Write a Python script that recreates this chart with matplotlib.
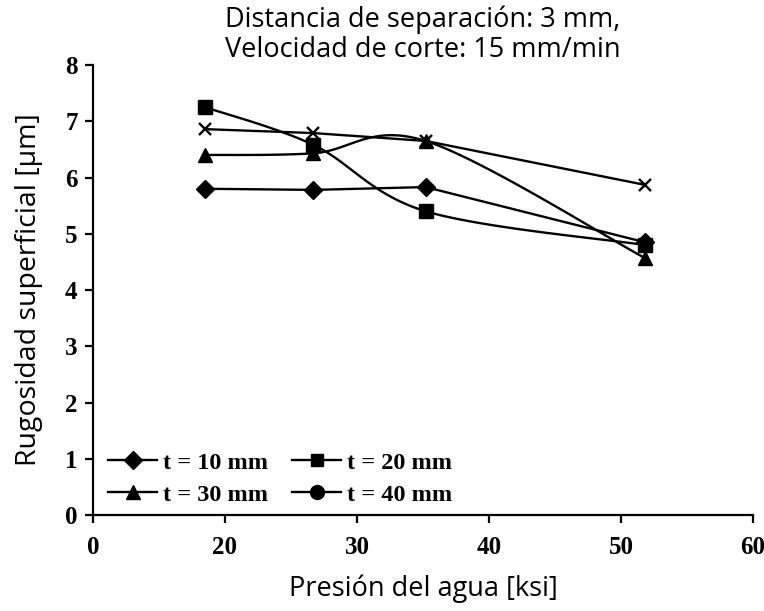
import numpy as np
import matplotlib.pyplot as plt
from matplotlib.lines import Line2D

# Values
presion = [18.5, 26.7, 35.2, 51.8]          # ksi
rug_t10 = [5.80, 5.78, 5.83, 4.85]
rug_t20 = [7.25, 6.58, 5.40, 4.80]
rug_t30 = [6.40, 6.43, 6.65, 4.57]
rug_t40 = [6.86, 6.79, 6.65, 5.87]

series_labels = ["t = 10 mm", "t = 20 mm", "t = 30 mm", "t = 40 mm"]
x_ticks = [10, 20, 30, 40, 50, 60]
x_tick_labels = ["0", "20", "30", "40", "50", "60"]
y_ticks = [0, 1, 2, 3, 4, 5, 6, 7, 8]


def smooth(x, y, n=30):
    # Excel-like smoothed line (Catmull-Rom through the points)
    x = np.asarray(x, float)
    y = np.asarray(y, float)
    px = np.concatenate([[x[0]], x, [x[-1]]])
    py = np.concatenate([[y[0]], y, [y[-1]]])
    xs, ys = [], []
    t = np.linspace(0, 1, n)
    for i in range(1, len(px) - 2):
        p0, p1, p2, p3 = (np.array([px[j], py[j]]) for j in range(i - 1, i + 3))
        m1 = (p2 - p0) / 2
        m2 = (p3 - p1) / 2
        h00 = 2 * t**3 - 3 * t**2 + 1
        h10 = t**3 - 2 * t**2 + t
        h01 = -2 * t**3 + 3 * t**2
        h11 = t**3 - t**2
        pts = (np.outer(h00, p1) + np.outer(h10, m1) +
               np.outer(h01, p2) + np.outer(h11, m2))
        xs.extend(pts[:, 0])
        ys.extend(pts[:, 1])
    return xs, ys


fig = plt.figure(figsize=(7.64, 6.11), dpi=100)
ax = fig.add_axes([0.1217, 0.1571, 0.8639, 0.7365])

lw = 1.7
# (values, marker, size, edge width, smoothed line?)
styles = [
    (rug_t10, "D", 9.5, 1.0, False),
    (rug_t20, "s", 9.5, 1.0, True),
    (rug_t30, "^", 10.5, 1.0, True),
    (rug_t40, "x", 9, 1.7, False),
]
for vals, mk, ms, mew, smoothed in styles:
    if smoothed:
        sx, sy = smooth(presion, vals)
    else:
        sx, sy = presion, vals
    ax.plot(sx, sy, color="black", lw=lw, zorder=2)
    ax.plot(presion, vals, linestyle="none", marker=mk, markersize=ms,
            color="black", markeredgewidth=mew, zorder=3)

ax.set_xlim(10, 60)
ax.set_ylim(0, 8)
ax.set_xticks(x_ticks)
ax.set_xticklabels(x_tick_labels)
ax.set_yticks(y_ticks)

for s in ["top", "right"]:
    ax.spines[s].set_visible(False)
for s in ["left", "bottom"]:
    ax.spines[s].set_linewidth(1.6)
ax.tick_params(direction="out", length=6, width=1.6, pad=5)
ax.tick_params(axis="x", pad=9)
for lab in ax.get_xticklabels() + ax.get_yticklabels():
    lab.set_fontfamily("Liberation Serif")
    lab.set_fontweight("bold")
    lab.set_fontsize(18)

ax.set_title("Distancia de separación: 3 mm,\nVelocidad de corte: 15 mm/min",
             fontfamily="Open Sans", fontsize=19.5, linespacing=1.1, pad=6)
ax.set_xlabel("Presión del agua [ksi]", fontfamily="Open Sans", fontsize=19.5,
              labelpad=11)
ax.set_ylabel("Rugosidad superficial [µm]", fontfamily="Open Sans",
              fontsize=20.5, labelpad=16)

# legend as drawn in the original (last entry shows a circle)
handles = [
    Line2D([], [], color="black", lw=lw, marker="D", markersize=9),
    Line2D([], [], color="black", lw=lw, marker="s", markersize=9),
    Line2D([], [], color="black", lw=lw, marker="^", markersize=10),
    Line2D([], [], color="black", lw=lw, marker="o", markersize=10),
]
order = [0, 2, 1, 3]
ax.legend([handles[i] for i in order], [series_labels[i] for i in order],
          ncol=2, loc="lower left", bbox_to_anchor=(-0.01, -0.028),
          frameon=False, handlelength=2.0, handletextpad=0.25,
          columnspacing=1.0, labelspacing=0.4,
          prop={"family": "Liberation Serif", "weight": "bold", "size": 17.5})

fig.savefig("out.png", dpi=100)
